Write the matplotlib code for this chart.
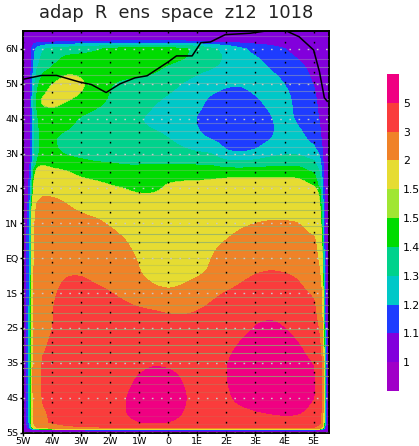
import numpy as np
import matplotlib
matplotlib.use("Agg")
import matplotlib.pyplot as plt
from matplotlib.colors import ListedColormap, BoundaryNorm
from matplotlib.cm import ScalarMappable

TITLE = "adap  R  ens  space  z12  1018"
levels = [1, 1.1, 1.2, 1.3, 1.4, 1.5, 1.52, 2, 3, 5]
level_labels = ["1", "1.1", "1.2", "1.3", "1.4", "1.5", "1.5", "2", "3", "5"]
colors = ["#A000C8", "#8200DC", "#1E3CFF", "#00C8C8", "#00D28C", "#00DC00",
          "#A0E632", "#E6DC32", "#F08228", "#FA3C3C", "#F00082"]

grid_lon = [-4.5, -4, -3.5, -3, -2.5, -2, -1.5, -1, -.5, 0, .5, 1, 1.5, 2, 2.5, 3, 3.5, 4, 4.5, 5]
grid_lat = [6, 5.5, 5, 4.5, 4, 3.5, 3, 2.5, 2, 1.5, 1, .5, 0, -.5, -1, -1.5, -2, -2.5, -3, -3.5, -4, -4.5, -5]
field = [
 [1.28,1.33,1.36,1.38,1.40,1.43,1.46,1.47,1.47,1.47,1.44,1.40,1.33,1.29,1.22,1.17,1.14,1.10,1.06,1.03],
 [1.33,1.39,1.47,1.46,1.46,1.47,1.47,1.46,1.43,1.39,1.37,1.33,1.31,1.29,1.27,1.24,1.19,1.16,1.12,1.07],
 [1.44,1.56,1.70,1.62,1.46,1.40,1.37,1.36,1.35,1.33,1.29,1.26,1.24,1.21,1.205,1.23,1.24,1.20,1.16,1.09],
 [1.56,1.62,1.53,1.48,1.43,1.39,1.37,1.36,1.31,1.28,1.26,1.23,1.17,1.15,1.15,1.185,1.22,1.23,1.17,1.11],
 [1.45,1.47,1.44,1.38,1.36,1.35,1.33,1.30,1.27,1.25,1.23,1.19,1.16,1.13,1.13,1.16,1.19,1.23,1.18,1.12],
 [1.45,1.405,1.38,1.37,1.36,1.35,1.34,1.33,1.32,1.30,1.27,1.21,1.17,1.15,1.14,1.15,1.18,1.24,1.23,1.15],
 [1.44,1.42,1.38,1.37,1.36,1.36,1.35,1.35,1.34,1.33,1.32,1.31,1.30,1.20,1.19,1.21,1.26,1.28,1.28,1.24],
 [1.7,1.6,1.55,1.47,1.45,1.44,1.43,1.43,1.44,1.45,1.45,1.45,1.45,1.45,1.45,1.45,1.45,1.45,1.45,1.38],
 [1.9,1.85,1.8,1.75,1.7,1.58,1.5,1.47,1.47,1.62,1.68,1.7,1.75,1.85,1.85,1.85,1.85,1.85,1.85,1.6],
 [2.3,2.35,2.05,1.9,1.85,1.8,1.8,1.85,1.85,1.78,1.75,1.75,1.75,1.78,1.8,1.8,1.8,1.8,1.8,1.7],
 [2.5,2.55,2.45,2.3,2.15,1.97,1.85,1.8,1.75,1.75,1.75,1.77,1.8,1.85,1.95,2.02,2.1,2.1,2.05,1.85],
 [2.55,2.6,2.6,2.55,2.45,2.3,2.05,1.85,1.78,1.75,1.78,1.85,1.93,2.03,2.25,2.35,2.4,2.4,2.3,2.1],
 [2.6,2.7,2.75,2.75,2.65,2.5,2.3,1.97,1.8,1.75,1.8,1.9,2.02,2.3,2.55,2.65,2.7,2.65,2.5,2.2],
 [2.7,2.85,3.05,3.05,2.9,2.75,2.5,2.05,1.9,1.85,1.9,1.97,2.1,2.45,2.85,3.1,3.3,3.2,2.95,2.4],
 [2.75,2.95,3.3,3.4,3.3,3.1,2.85,2.5,2.2,2.1,2.2,2.5,2.85,3.2,3.5,3.8,4.0,3.8,3.4,2.95],
 [2.8,3.0,3.5,3.7,3.7,3.6,3.45,3.3,3.15,2.95,2.9,3.05,3.4,3.8,4.1,4.4,4.5,4.3,3.9,3.15],
 [2.85,2.97,3.7,3.9,3.9,3.85,3.8,3.75,3.75,3.7,3.65,3.7,3.85,4.05,4.5,5.2,5.6,5.1,4.4,3.5],
 [2.85,3.2,3.9,4.1,4.1,4.05,4.05,4.1,4.2,4.1,4.05,4.1,4.2,4.5,5.3,5.9,6.2,5.8,5.2,3.9],
 [3.0,3.4,4.0,4.2,4.2,4.2,4.3,4.5,4.9,4.7,4.4,4.3,4.4,5.0,6.0,6.3,6.5,6.4,5.9,5.0],
 [3.05,3.45,4.0,4.2,4.2,4.25,4.5,5.4,6.0,5.9,5.0,4.3,4.4,5.0,6.1,6.4,6.5,6.4,6.0,5.1],
 [3.0,3.4,3.9,4.1,4.2,4.3,5.0,5.9,6.2,6.1,5.4,4.4,4.4,4.7,5.8,6.3,6.5,6.4,6.0,5.1],
 [2.85,3.2,3.7,3.9,4.0,4.1,5.1,5.6,5.7,5.6,5.1,4.2,4.1,4.1,4.3,4.7,4.95,5.15,5.1,4.5],
 [2.8,3.1,3.5,3.7,3.8,3.9,4.1,4.4,4.5,4.4,4.2,3.9,3.8,3.8,3.8,3.9,3.9,3.9,3.9,3.8],
]

# edge relaxation read across the rim of the domain
rim_x_lon = [-5, -4.9, -4.8, -4.72, -4.68, -4.62, -4.5, -4.3, 5.0, 5.2, 5.28, 5.33, 5.38, 5.43, 5.53]
rim_x_val = [0, .033, .08, .22, .4, .6, .85, 1, 1, .75, .45, .22, .08, .02, 0]
rim_y_lat = [-5, -4.92, -4.88, -4.85, -4.7, 5.8, 6.0, 6.1, 6.15, 6.2, 6.3, 6.5]
rim_y_val = [0, .03, .33, .66, .97, 1, .95, .65, .45, .22, .1, 0]

line_lon = [-5.0, -4.36, -3.84, -3.05, -2.65, -2.14, -1.66, -1.15, -.73, .0, .28, .82, 1.12, 1.45, 1.96, 2.82, 3.4, 4.05, 4.5, 5.0, 5.2, 5.37, 5.47]
line_lat = [5.13, 5.24, 5.24, 5.05, 4.98, 4.75, 5.0, 5.17, 5.23, 5.63, 5.8, 5.8, 6.18, 6.2, 6.41, 6.45, 6.52, 6.52, 6.35, 5.97, 5.35, 4.6, 4.5]

hline_top = 6.38
hline_step = 0.2272
hline_strength = [.3, .0, .0, .35, .45, .45, .45, .45, .45, .45, .4, .4, .4, .4, .4, .4, .3, .3, .3, .3, .55, .55, .6, .6, .6,
                  .75, .75, .75, .35, .3, .3, .3, .45, .5, .55, .6, .65, .75, .75, .75, .75, .75, .75, .75, .3, .2, .15, .15, .15, .15, .15]

xticks = [-5, -4, -3, -2, -1, 0, 1, 2, 3, 4, 5]
xlabels = ["5W", "4W", "3W", "2W", "1W", "0", "1E", "2E", "3E", "4E", "5E"]
yticks = [-5, -4, -3, -2, -1, 0, 1, 2, 3, 4, 5, 6]
ylabels = ["5S", "4S", "3S", "2S", "1S", "EQ", "1N", "2N", "3N", "4N", "5N", "6N"]

W, H = 419, 446
XMIN, XMAX, YMIN, YMAX = -5.0, 5.53, -4.98, 6.5

fig = plt.figure(figsize=(W / 100, H / 100), dpi=100, facecolor="white")
ax = fig.add_axes([23 / W, 1 - 432.5 / H, (329 - 23) / W, (432.5 - 31.5) / H])

# fine grid, class-position transform so neighbouring contour bands blend evenly
u_knots_v = np.array([1, 1.1, 1.2, 1.3, 1.4, 1.5, 1.52, 2, 3, 5, 8])
u_knots_u = np.array([0, 1, 2, 3, 4, 5, 5.02, 6.02, 7.02, 8.02, 9.52])
fx = np.arange(-5.0, 5.56, 0.02)
fy = np.arange(-5.0, 6.52, 0.02)
tbl = np.interp(np.array(field), u_knots_v, u_knots_u)[::-1, :]
lat_asc = np.array(grid_lat)[::-1]
tmp = np.array([np.interp(fy, lat_asc, tbl[:, j]) for j in range(tbl.shape[1])]).T
fine = np.array([np.interp(fx, grid_lon, tmp[i, :]) for i in range(tmp.shape[0])])


def smooth(a, n, axis):
    k = np.ones(n) / n
    pad = [(0, 0), (0, 0)]
    pad[axis] = (n, n)
    b = np.pad(a, pad, mode="edge")
    b = np.apply_along_axis(lambda m: np.convolve(m, k, mode="same"), axis, b)
    return b[n:-n, :] if axis == 0 else b[:, n:-n]


for _ in range(3):
    fine = smooth(fine, 13, 0)
    fine = smooth(fine, 13, 1)
vals = np.interp(fine, u_knots_u, u_knots_v)
wx = np.interp(fx, rim_x_lon, rim_x_val)
wy = np.interp(fy, rim_y_lat, rim_y_val)
vals = 1.02 + (vals - 1.02) * np.outer(wy, wx)

bounds = levels + [9]
cs = ax.contourf(fx, fy, vals, levels=bounds[1:], colors=colors[2:], extend="neither")
cs.set_edgecolor("face")
cs.set_linewidth(0.3)

for i, s in enumerate(hline_strength):
    if s > 0:
        c = "#8CAF6E" if i >= 20 else "#B0B4A8"
        ax.axhline(hline_top - i * hline_step, color=c, lw=0.8, alpha=s, zorder=3)
for y in yticks:
    ax.axhline(y, color="#C8C8C8", lw=1.0, ls=(0, (1.2, 5.4)), zorder=4)
for x in xticks:
    ax.axvline(x, color="black", lw=1.0, ls=(0, (1.2, 6.0)), zorder=5)

ax.plot(line_lon, line_lat, color="black", lw=1.1, zorder=6)

ax.set_xlim(XMIN, XMAX)
ax.set_ylim(YMIN, YMAX)
ax.set_xticks(xticks, xlabels)
ax.set_yticks(yticks, ylabels)
ax.set_yticks(np.arange(-5, 6.5, 0.25), minor=True)
ax.tick_params(which="major", length=2.5, width=1.0, labelsize=6.8, pad=1)
ax.tick_params(which="minor", length=1.0, width=0.7)
for s in ax.spines.values():
    s.set_linewidth(1.4)
ax.set_facecolor(colors[1])

fig.text(176 / W, 1 - 13 / H, TITLE, ha="center", va="center", fontsize=12.8, color="#222222")

cax = fig.add_axes([387 / W, 1 - 391 / H, 12 / W, (391 - 74) / H])
cb_bounds = [0.9] + levels + [6]
cb_cmap = ListedColormap(colors)
cb = fig.colorbar(ScalarMappable(BoundaryNorm(cb_bounds, cb_cmap.N), cb_cmap), cax=cax,
                  boundaries=cb_bounds, spacing="uniform", ticks=levels)
cb.ax.set_yticklabels(level_labels)
cb.ax.minorticks_off()
cb.ax.tick_params(which="both", length=0, labelsize=7.8, pad=3)
cb.outline.set_visible(False)

fig.savefig("out.png", dpi=100)
